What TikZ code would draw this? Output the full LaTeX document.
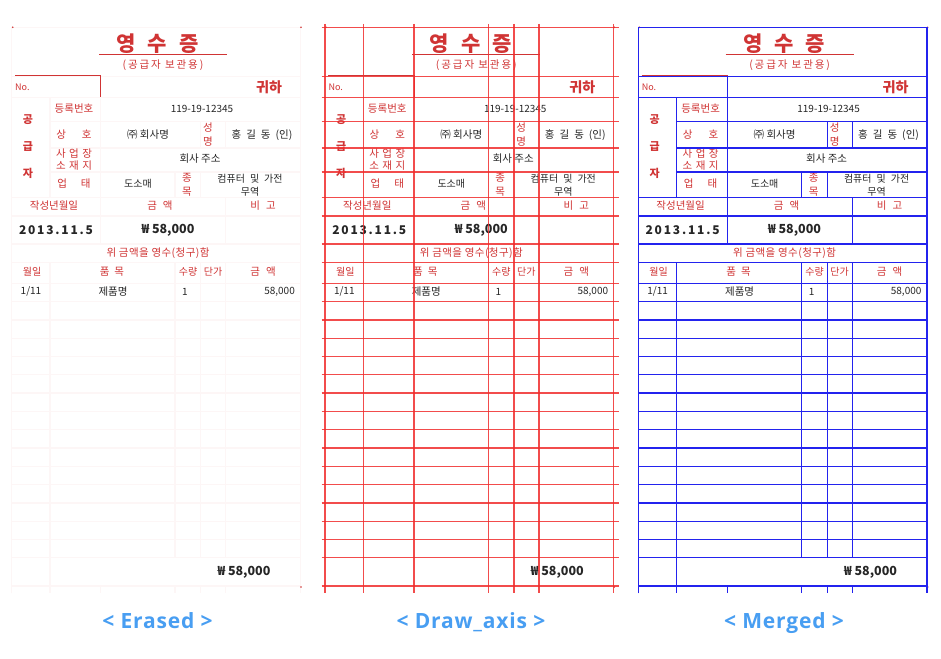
\documentclass[tikz,border=0pt]{standalone}
\usepackage{fontspec}
\setmainfont{Noto Sans CJK KR}
\newfontfamily\labelfont{Open Sans}
\definecolor{rtxt}{RGB}{208,52,52}
\definecolor{btxt}{RGB}{38,38,38}
\definecolor{redax}{RGB}{240,45,45}
\definecolor{blueax}{RGB}{35,35,238}
\definecolor{faintln}{RGB}{253,246,246}
\definecolor{lbl}{RGB}{72,158,242}
\tikzset{
  rt/.style={text=rtxt, inner sep=0pt, font=\fontsize{10.5}{12}\selectfont},
  bt/.style={text=btxt, inner sep=0pt, font=\fontsize{10}{12}\selectfont},
  redline/.style={draw=redax, line width=1.3pt, opacity=0.85},
  blueline/.style={draw=blueax, line width=1.3pt},
  faintline/.style={draw=faintln, line width=1.3pt},
  formline/.style={draw=rtxt, line width=0.9pt},
  caption/.style={text=lbl, inner sep=0pt, anchor=base, font=\labelfont\bfseries\addfontfeature{LetterSpace=4}\fontsize{21}{24}\selectfont}
}
\newcommand\receipt[1]{%
 \draw[formline] (99,54.5) -- (227,54.5);
 \draw[formline] (15,75.5) -- (100.7,75.5) -- (100.7,97);
 \fill[rtxt] (12.7,27.3) circle (0.9pt) (301,27.3) circle (0.9pt) (301,587) circle (0.9pt);
 \node[rt, font=\bfseries\fontsize{21}{24}\selectfont] (#1title) at (157.5,44) {영\hspace{12pt}수\hspace{12pt}증};
 \node[rt, font=\addfontfeature{LetterSpace=18}\fontsize{10.5}{12}\selectfont] (#1sub) at (163,65.5) {(공급자 보관용)};
 \node[rt, font=\fontsize{9}{10}\selectfont, anchor=west] (#1no) at (15,87) {No.};
 \node[rt, font=\bfseries\fontsize{14}{16}\selectfont] (#1gw) at (269,87) {귀하};
 \node[rt] (#1reg) at (74,108.5) {등록번호};
 \node[bt] (#1regv) at (202,108.5) {119-19-12345};
 \node[rt, font=\bfseries\fontsize{11}{12}\selectfont] (#1ga) at (28,120) {공};
 \node[rt, font=\bfseries\fontsize{11}{12}\selectfont] (#1gb) at (28,147) {급};
 \node[rt, font=\bfseries\fontsize{11}{12}\selectfont] (#1gc) at (28,173) {자};
 \node[rt] (#1sh) at (74,135) {상\hspace{16pt}호};
 \node[bt, font=\fontsize{10.5}{12}\selectfont] (#1shv) at (148,135) {㈜ 회사명};
 \node[rt] (#1sa) at (208,128) {성};
 \node[rt] (#1sb) at (208,141.5) {명};
 \node[bt, font=\fontsize{10.5}{12}\selectfont] (#1nm) at (262,135) {홍\hspace{5pt}길\hspace{5pt}동\hspace{5pt}(인)};
 \node[rt] (#1ada) at (74,154) {사\hspace{3.5pt}업\hspace{3.5pt}장};
 \node[rt] (#1adb) at (74,165.5) {소\hspace{3.5pt}재\hspace{3.5pt}지};
 \node[bt, font=\fontsize{10.5}{12}\selectfont] (#1adv) at (200,159) {회사 주소};
 \node[rt] (#1ut) at (74,184) {업\hspace{14pt}태};
 \node[bt] (#1utv) at (138,184) {도소매};
 \node[rt] (#1ja) at (187,178) {종};
 \node[rt] (#1jb) at (187,191.5) {목};
 \node[bt] (#1jva) at (250,179) {컴퓨터\hspace{5pt}및\hspace{5pt}가전};
 \node[bt] (#1jvb) at (250,191.5) {무역};
 \node[rt] (#1dt) at (54,206) {작성년월일};
 \node[rt] (#1am) at (160,206) {금\hspace{6pt}액};
 \node[rt] (#1rm) at (263,206) {비\hspace{6pt}고};
 \node[bt, font=\bfseries\addfontfeature{LetterSpace=15}\fontsize{12}{14}\selectfont] (#1dtv) at (56,230) {2013.11.5};
 \node[bt, font=\bfseries\fontsize{12.5}{14}\selectfont] (#1amv) at (168,230) {₩ 58,000};
 \node[rt, font=\addfontfeature{LetterSpace=4}\fontsize{10.5}{12}\selectfont] (#1rc) at (158,253) {위 금액을 영수(청구)함};
 \node[rt, font=\fontsize{10}{12}\selectfont] (#1hd) at (32,272) {월일};
 \node[rt] (#1hi) at (112,272) {품\hspace{5pt}목};
 \node[rt, font=\fontsize{10}{12}\selectfont] (#1hq) at (188,272) {수량};
 \node[rt, font=\fontsize{10}{12}\selectfont] (#1hu) at (213,272) {단가};
 \node[rt] (#1ha) at (263,272) {금\hspace{6pt}액};
 \node[bt] (#1id) at (31,291.5) {1/11};
 \node[bt, font=\fontsize{10.5}{12}\selectfont] (#1ii) at (113,291.5) {제품명};
 \node[bt] (#1iq) at (185,291.5) {1};
 \node[bt, anchor=east] (#1ia) at (295,291.5) {58,000};
 \node[bt, font=\bfseries\fontsize{12.5}{14}\selectfont] (#1tot) at (244,572.5) {₩ 58,000};
}
\newcommand\mergedgrid[1]{%
 \draw[#1] (11.7,593.3) -- (11.7,27.3) -- (300.4,27.3) -- (300.4,593.3);
 \foreach \y in {76.7,97.3,197.7,216,244,262.3,283.3,586} \draw[#1] (11.7,\y) -- (300.4,\y);
 \foreach \k in {1,...,15} \draw[#1] (11.7,283.3+18.3*\k) -- (300.4,283.3+18.3*\k);
 \foreach \y in {121.7,148,172} \draw[#1] (50,\y) -- (300.4,\y);
 \draw[#1] (100.7,76.7) -- (100.7,97.3);
 \draw[#1] (50,97.3) -- (50,197.7);
 \draw[#1] (100.7,97.3) -- (100.7,244);
 \draw[#1] (200.7,121.7) -- (200.7,148) (225.7,121.7) -- (225.7,148);
 \draw[#1] (175,172) -- (175,197.7) (200.7,172) -- (200.7,197.7);
 \draw[#1] (225.7,197.7) -- (225.7,244);
 \draw[#1] (50,262.3) -- (50,593.3);
 \foreach \x in {175,200.7,225.7} {\draw[#1] (\x,262.3) -- (\x,557.8); \draw[#1] (\x,586) -- (\x,593.3);}
 \draw[#1] (100.7,586) -- (100.7,593.3);
}
\begin{document}
\begin{tikzpicture}[x=1pt,y=-1pt]
\useasboundingbox[fill=white] (0,0) rectangle (941,658);
% panel 1: erased
\begin{scope}
 \mergedgrid{faintline}
 \receipt{e}
\end{scope}
% panel 2: draw axis
\begin{scope}[xshift=313.3pt]
 \receipt{d}
 \foreach \x in {11.7,50,100.7,175,200.7,225.7,300.4} \draw[redline] (\x,24) -- (\x,593.3);
 \foreach \y in {27.3,76.7,97.3,121.7,148,172,197.7,216,244,262.3,283.3,586} \draw[redline] (8.4,\y) -- (305.4,\y);
 \foreach \k in {1,...,15} \draw[redline] (8.4,283.3+18.3*\k) -- (305.4,283.3+18.3*\k);
\end{scope}
% panel 3: merged
\begin{scope}[xshift=626.6pt]
 \receipt{m}
 \mergedgrid{blueline}
\end{scope}
\node[caption] (cap1) at (157.5,628) {< Erased >};
\node[caption] (cap2) at (471,628) {< Draw\_axis >};
\node[caption] (cap3) at (784,628) {< Merged >};
\end{tikzpicture}
\end{document}
